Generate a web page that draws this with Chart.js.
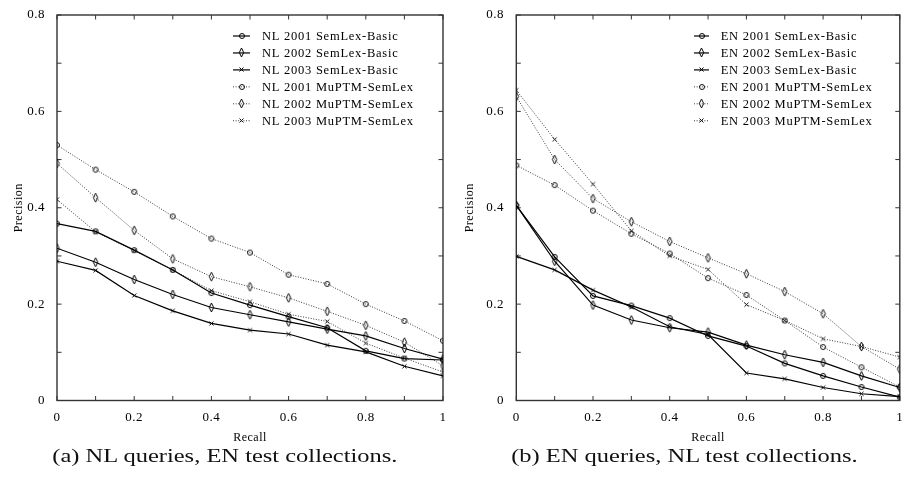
<!DOCTYPE html>
<html><head><meta charset="utf-8">
<script src="https://cdn.jsdelivr.net/npm/chart.js@4"></script>
<style>
html,body{margin:0;padding:0;background:#fff;width:904px;height:477px;overflow:hidden;}
#wrap{position:relative;width:904px;height:477px;}
canvas{position:absolute;top:0;}
.cap{position:absolute;top:446px;width:420px;text-align:center;font-family:"Liberation Serif",serif;font-size:18px;line-height:20px;color:#111;white-space:nowrap;}
.cap span{display:inline-block;transform:scaleX(1.36);transform-origin:center;}
</style></head>
<body><div id="wrap">
<canvas id="c1" width="452" height="477" style="left:0;width:452px;height:477px"></canvas>
<canvas id="c2" width="452" height="477" style="left:452px;width:452px;height:477px"></canvas>
<div class="cap" style="left:15px"><span>(a) NL queries, EN test collections.</span></div>
<div class="cap" style="left:474px"><span>(b) EN queries, NL test collections.</span></div>
</div>
<script>
// ---- data ----
const recall = [0, 0.1, 0.2, 0.3, 0.4, 0.5, 0.6, 0.7, 0.8, 0.9, 1];
const xTickLabels = [0, 0.2, 0.4, 0.6, 0.8, 1];
const yTickLabels = [0, 0.2, 0.4, 0.6, 0.8];
const xMinorTicks = [0, 0.1, 0.2, 0.3, 0.4, 0.5, 0.6, 0.7, 0.8, 0.9, 1];
const yMinorTicks = [0, 0.1, 0.2, 0.3, 0.4, 0.5, 0.6, 0.7, 0.8];

const nlLabels = ["NL 2001 SemLex-Basic", "NL 2002 SemLex-Basic", "NL 2003 SemLex-Basic",
                  "NL 2001 MuPTM-SemLex", "NL 2002 MuPTM-SemLex", "NL 2003 MuPTM-SemLex"];
const nl2001Basic = [0.367, 0.351, 0.312, 0.271, 0.223, 0.198, 0.174, 0.151, 0.103, 0.087, 0.084];
const nl2002Basic = [0.316, 0.287, 0.251, 0.220, 0.193, 0.178, 0.163, 0.148, 0.134, 0.108, 0.086];
const nl2003Basic = [0.289, 0.270, 0.218, 0.186, 0.160, 0.146, 0.138, 0.115, 0.101, 0.071, 0.051];
const nl2001Mu    = [0.530, 0.479, 0.433, 0.382, 0.336, 0.307, 0.261, 0.242, 0.200, 0.165, 0.124];
const nl2002Mu    = [0.492, 0.421, 0.353, 0.294, 0.257, 0.236, 0.213, 0.185, 0.156, 0.121, 0.072];
const nl2003Mu    = [0.417, 0.350, 0.311, 0.271, 0.228, 0.205, 0.179, 0.164, 0.119, 0.088, 0.059];

const enLabels = ["EN 2001 SemLex-Basic", "EN 2002 SemLex-Basic", "EN 2003 SemLex-Basic",
                  "EN 2001 MuPTM-SemLex", "EN 2002 MuPTM-SemLex", "EN 2003 MuPTM-SemLex"];
const en2001Basic = [0.405, 0.298, 0.217, 0.197, 0.171, 0.134, 0.113, 0.077, 0.051, 0.028, 0.007];
const en2002Basic = [0.405, 0.289, 0.198, 0.167, 0.151, 0.142, 0.115, 0.095, 0.079, 0.051, 0.027];
const en2003Basic = [0.299, 0.271, 0.229, 0.194, 0.153, 0.137, 0.057, 0.045, 0.027, 0.014, 0.008];
const en2001Mu    = [0.488, 0.447, 0.394, 0.346, 0.305, 0.254, 0.219, 0.166, 0.111, 0.069, 0.028];
const en2002Mu    = [0.631, 0.500, 0.419, 0.371, 0.330, 0.296, 0.263, 0.226, 0.180, 0.112, 0.065];
const en2003Mu    = [0.644, 0.542, 0.449, 0.352, 0.300, 0.272, 0.199, 0.166, 0.128, 0.112, 0.090];

const xTitle = "Recall";
const yTitle = "Precision";

// ---- markers ----
function mk(kind, color) {
  const c = document.createElement('canvas');
  let w = 8, h = 8;
  if (kind === 'diamond') { w = 7; h = 11; }
  if (kind === 'cross') { w = 7; h = 7; }
  c.width = w; c.height = h;
  const g = c.getContext('2d');
  g.strokeStyle = color; g.lineWidth = 1;
  g.beginPath();
  if (kind === 'circle') {
    g.arc(w / 2, h / 2, 2.5, 0, Math.PI * 2);
  } else if (kind === 'diamond') {
    g.moveTo(w / 2, 1); g.lineTo(w - 1.3, h / 2); g.lineTo(w / 2, h - 1); g.lineTo(1.3, h / 2); g.closePath();
  } else {
    g.moveTo(1.5, 1.5); g.lineTo(w - 1.5, h - 1.5); g.moveTo(w - 1.5, 1.5); g.lineTo(1.5, h - 1.5);
  }
  g.stroke();
  return c;
}
const kinds = ['circle', 'diamond', 'cross'];
const solidMarkers = kinds.map(k => mk(k, '#000'));
const dotMarkers = kinds.map(k => mk(k, '#111'));

Chart.defaults.font.family = '"Liberation Serif", serif';
Chart.defaults.color = '#000';

const frame = {
  id: 'frame',
  beforeDraw(chart) { chart.ctx.letterSpacing = '0.5px'; },
  beforeDatasetsDraw(chart) {
    const {ctx, chartArea: a, scales: {x, y}} = chart;
    ctx.save();
    ctx.strokeStyle = '#333';
    ctx.lineWidth = 1;
    const L = 4.5;
    ctx.beginPath();
    xMinorTicks.forEach(v => {
      const px = x.getPixelForValue(v);
      ctx.moveTo(px, a.bottom); ctx.lineTo(px, a.bottom - L);
      ctx.moveTo(px, a.top); ctx.lineTo(px, a.top + L);
    });
    yMinorTicks.forEach(v => {
      const py = y.getPixelForValue(v);
      ctx.moveTo(a.left, py); ctx.lineTo(a.left + L, py);
      ctx.moveTo(a.right, py); ctx.lineTo(a.right - L, py);
    });
    ctx.stroke();
    ctx.lineWidth = 1.4;
    ctx.strokeRect(a.left, a.top, a.right - a.left, a.bottom - a.top);
    ctx.restore();
  },
  afterDraw(chart, args, o) {
    const ctx = chart.ctx;
    ctx.save();
    ctx.font = '12.5px "Liberation Serif", serif';
    ctx.letterSpacing = '0.75px';
    ctx.textBaseline = 'middle';
    ctx.textAlign = 'left';
    chart.data.datasets.forEach((ds, i) => {
      const yy = o.y0 + i * o.dy;
      ctx.save();
      ctx.strokeStyle = ds.borderColor;
      ctx.lineWidth = ds.borderWidth;
      ctx.setLineDash(ds.borderDash || []);
      ctx.beginPath(); ctx.moveTo(o.x1, yy); ctx.lineTo(o.x2, yy); ctx.stroke();
      ctx.restore();
      const m = ds.pointStyle;
      ctx.drawImage(m, Math.round((o.x1 + o.x2) / 2 - m.width / 2), Math.round(yy - m.height / 2));
      ctx.fillStyle = '#000';
      ctx.fillText(ds.label, o.tx, yy + 0.5);
    });
    ctx.restore();
  }
};

function makeChart(id, labels, series, g) {
  const datasets = series.map((s, i) => ({
    label: labels[i],
    data: recall.map((r, j) => ({x: r, y: s[j]})),
    borderColor: i < 3 ? '#000' : '#3a3a3a',
    borderWidth: i < 3 ? 1.2 : 1,
    borderDash: i < 3 ? [] : [1, 1.6],
    pointStyle: i < 3 ? solidMarkers[i % 3] : dotMarkers[i % 3],
    pointRadius: 3,
    pointHoverRadius: 3,
    fill: false,
    tension: 0
  }));
  return new Chart(document.getElementById(id), {
    type: 'line',
    data: {datasets},
    plugins: [frame],
    options: {
      responsive: false,
      animation: false,
      events: [],
      layout: {padding: {top: 15, right: g.padRight, left: 0, bottom: 0}},
      plugins: {
        legend: {display: false},
        tooltip: {enabled: false},
        frame: g.legend
      },
      scales: {
        x: {
          type: 'linear', min: 0, max: 1,
          afterBuildTicks: s => { s.ticks = xTickLabels.map(v => ({value: v})); },
          afterFit: s => { s.height = 76.5; s.paddingLeft = 0; s.paddingRight = 0; },
          grid: {display: false, drawTicks: false},
          border: {display: false},
          ticks: {padding: 9, font: {size: 13}, maxRotation: 0, autoSkip: false, color: '#000',
                  callback: v => String(v)},
          title: {display: true, text: xTitle, font: {size: 12}, padding: {top: 0, bottom: 32.3}, color: '#000'}
        },
        y: {
          type: 'linear', min: 0, max: 0.8,
          afterBuildTicks: s => { s.ticks = yTickLabels.map(v => ({value: v})); },
          afterFit: s => { s.width = g.yWidth; s.paddingTop = 0; s.paddingBottom = 0; },
          grid: {display: false, drawTicks: false},
          border: {display: false},
          ticks: {padding: g.yPad, font: {size: 13}, color: '#000', callback: v => String(v)},
          title: {display: true, text: yTitle, font: {size: 12}, padding: {top: g.yTitlePad, bottom: 0}, color: '#000'}
        }
      }
    }
  });
}

makeChart('c1', nlLabels, [nl2001Basic, nl2002Basic, nl2003Basic, nl2001Mu, nl2002Mu, nl2003Mu],
  {padRight: 9, yWidth: 57, yPad: 12, yTitlePad: 11.8,
   legend: {x1: 233, x2: 250, tx: 262, y0: 36, dy: 16.95}});
makeChart('c2', enLabels, [en2001Basic, en2002Basic, en2003Basic, en2001Mu, en2002Mu, en2003Mu],
  {padRight: 2.3, yWidth: 64.3, yPad: 12.3, yTitlePad: 10.8,
   legend: {x1: 242, x2: 257, tx: 268.7, y0: 36, dy: 16.95}});
</script>
</body></html>
